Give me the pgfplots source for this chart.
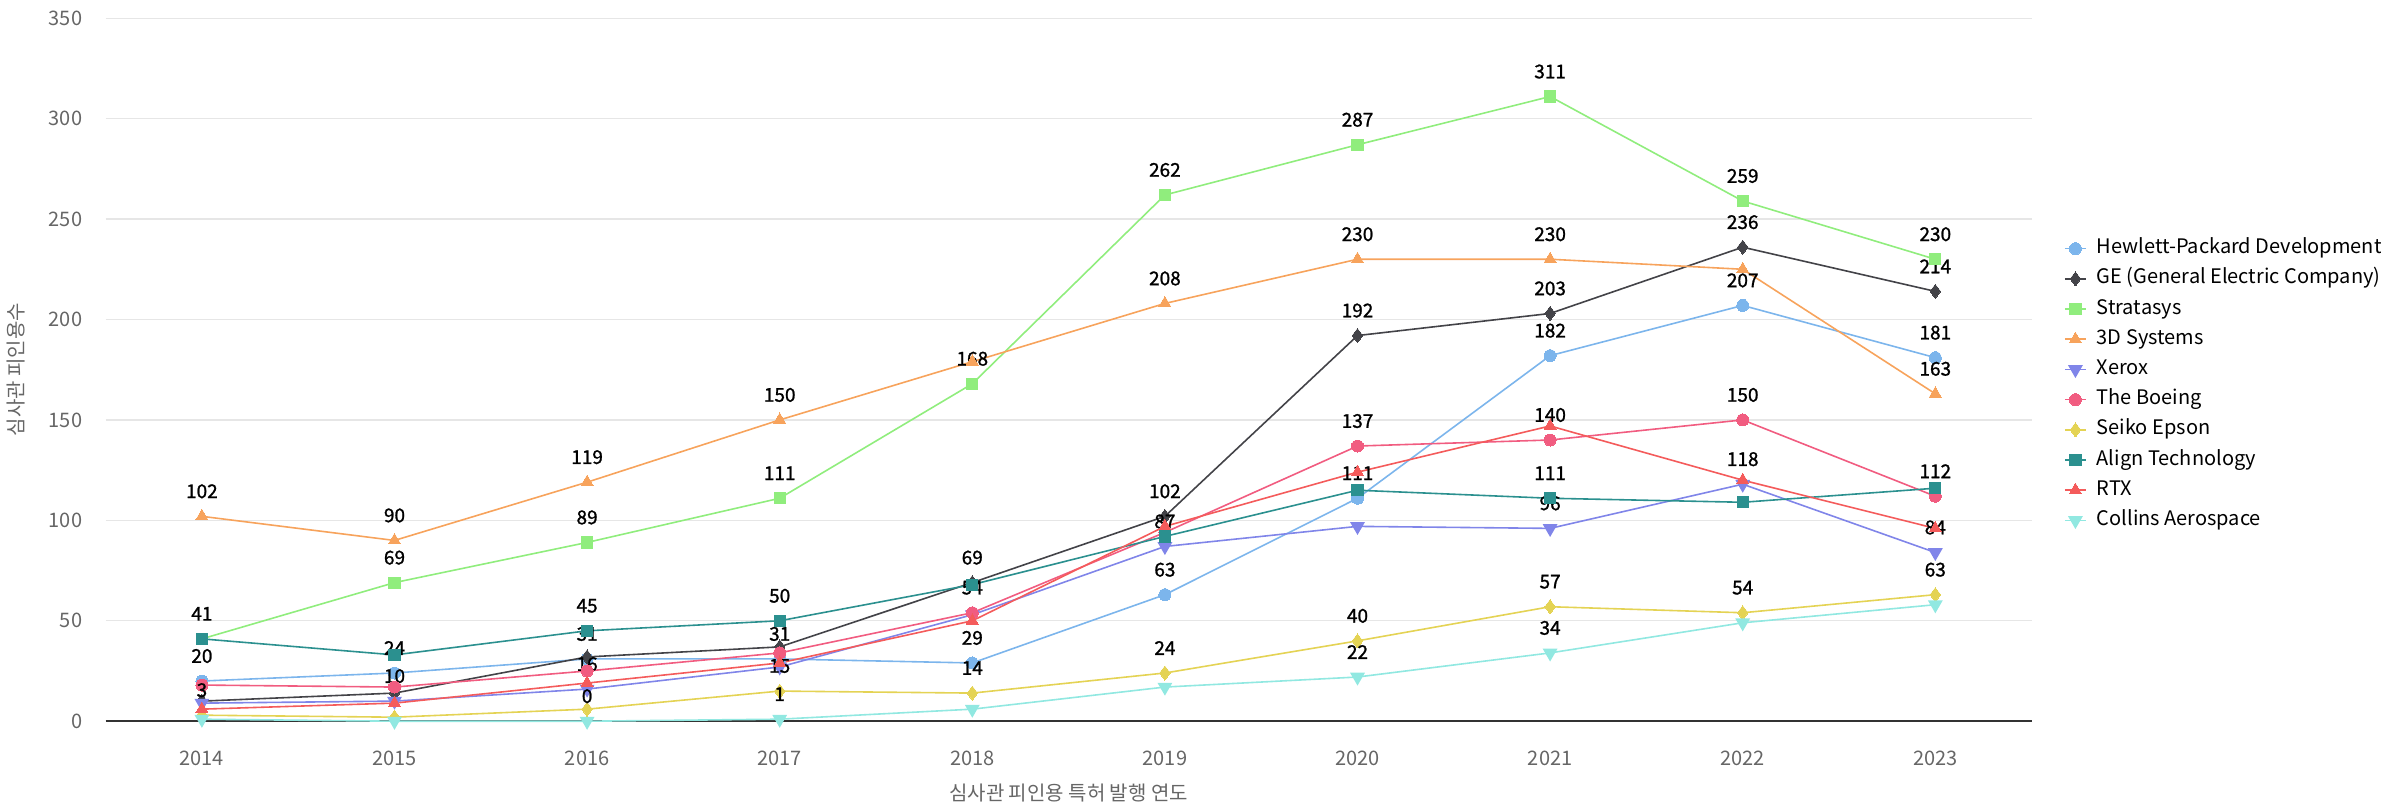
\documentclass[border=0pt]{standalone}
\usepackage{pgfplots}
\pgfplotsset{compat=1.18}
\usepackage{fontspec}
\setmainfont{Noto Sans CJK KR}
\newfontfamily\labfont[FakeBold=1.2]{Noto Sans CJK KR}
\definecolor{hp}{HTML}{7CB5EC}
\definecolor{ge}{HTML}{434348}
\definecolor{st}{HTML}{90ED7D}
\definecolor{td}{HTML}{F7A35C}
\definecolor{xe}{HTML}{8085E9}
\definecolor{bo}{HTML}{F15C80}
\definecolor{se}{HTML}{E4D354}
\definecolor{al}{HTML}{2B908F}
\definecolor{rt}{HTML}{F45B5B}
\definecolor{co}{HTML}{91E8E1}
\definecolor{gridgray}{HTML}{E6E6E6}
\definecolor{tickgray}{HTML}{666666}
\definecolor{axgray}{HTML}{333333}
\pgfplotsset{
  lab/.style={point meta=y,
    visualization depends on={value \thisrow{s}\as\showlab},
    nodes near coords={\ifnum\showlab=1 \pgfmathprintnumber{\pgfplotspointmeta}\fi}},
  ser/.style={color=#1, line width=0.8pt, lab,
    mark options={fill=#1, draw=#1, line width=0pt, solid}},
}
\begin{document}
\begin{tikzpicture}
\path[use as bounding box] (-52.8pt,-44pt) rectangle (1137.7pt,360.6pt);
\begin{axis}[
  at={(0,0)}, anchor=south west,
  scale only axis, width=963pt, height=351.5pt,
  xmin=-0.5, xmax=9.5, ymin=0, ymax=350,
  clip=false,
  xtick={0,...,9}, xticklabels={2014,2015,2016,2017,2018,2019,2020,2021,2022,2023},
  ytick={0,50,...,350},
  ymajorgrids, grid style={color=gridgray, line width=0.6pt},
  axis lines*=left,
  x axis line style={draw=axgray, line width=1pt},
  y axis line style={draw=none},
  major tick length=0pt,
  tick label style={font=\fontsize{10}{12}\selectfont, text=tickgray},
  xticklabel style={anchor=center, yshift=-18.5pt, inner sep=0pt},
  yticklabel style={anchor=east, xshift=-11.5pt, inner sep=0pt},
  /pgf/number format/assume math mode=true,
  xlabel={심사관 피인용 특허 발행 연도},
  ylabel={심사관 피인용수},
  xlabel style={at={(axis description cs:0.5,0)}, anchor=center, yshift=-36pt, font=\fontsize{10}{12}\selectfont, text=tickgray},
  ylabel style={at={(axis description cs:0,0.5)}, anchor=center, yshift=45pt, font=\fontsize{10}{12}\selectfont, text=tickgray},
  nodes near coords style={font=\labfont\fontsize{9.5}{10}\selectfont, text=black, anchor=center, yshift=12.5pt, inner sep=0pt},
  legend style={at={(rel axis cs:1,0.687)}, anchor=north west, xshift=16pt, draw=none, fill=none,
    inner sep=0pt, row sep=5.1pt, font=\fontsize{10}{12}\selectfont,
    nodes={inner ysep=0pt, inner xsep=5pt, text height=7.5pt, text depth=2.5pt}},
  legend cell align=left,
  legend image code/.code={\draw[mark repeat=2,mark phase=2] plot coordinates {(0pt,0pt) (5.3pt,0pt) (10.6pt,0pt)};},
]
\addplot[ser=hp, mark=*, mark size=3pt] table {
x y s
0 20 1
1 24 1
2 31 1
3 31 1
4 29 1
5 63 1
6 111 1
7 182 1
8 207 1
9 181 1
};
\addlegendentry{Hewlett-Packard Development}
\addplot[ser=ge, mark=diamond*, mark size=3.5pt] table {
x y s
0 10 0
1 14 0
2 32 0
3 37 0
4 69 1
5 102 1
6 192 1
7 203 1
8 236 1
9 214 1
};
\addlegendentry{GE (General Electric Company)}
\addplot[ser=st, mark=square*, mark size=2.8pt] table {
x y s
0 41 0
1 69 1
2 89 1
3 111 1
4 168 1
5 262 1
6 287 1
7 311 1
8 259 1
9 230 1
};
\addlegendentry{Stratasys}
\addplot[ser=td, mark=triangle*, mark size=3.5pt] table {
x y s
0 102 1
1 90 1
2 119 1
3 150 1
4 179 0
5 208 1
6 230 1
7 230 1
8 225 0
9 163 1
};
\addlegendentry{3D Systems}
\addplot[ser=xe, mark=triangle*, mark size=3.5pt, mark options={rotate=180}] table {
x y s
0 9 0
1 10 1
2 16 1
3 27 0
4 53 0
5 87 1
6 97 0
7 96 1
8 118 1
9 84 1
};
\addlegendentry{Xerox}
\addplot[ser=bo, mark=*, mark size=3pt] table {
x y s
0 18 0
1 17 0
2 25 0
3 34 0
4 54 1
5 94 0
6 137 1
7 140 1
8 150 1
9 112 1
};
\addlegendentry{The Boeing}
\addplot[ser=se, mark=diamond*, mark size=3.5pt] table {
x y s
0 3 1
1 2 0
2 6 0
3 15 1
4 14 1
5 24 1
6 40 1
7 57 1
8 54 1
9 63 1
};
\addlegendentry{Seiko Epson}
\addplot[ser=al, mark=square*, mark size=2.8pt] table {
x y s
0 41 1
1 33 0
2 45 1
3 50 1
4 68 0
5 92 0
6 115 0
7 111 1
8 109 0
9 116 0
};
\addlegendentry{Align Technology}
\addplot[ser=rt, mark=triangle*, mark size=3.5pt] table {
x y s
0 6 0
1 9 0
2 19 0
3 29 0
4 50 0
5 97 0
6 124 0
7 147 0
8 120 0
9 96 0
};
\addlegendentry{RTX}
\addplot[ser=co, mark=triangle*, mark size=3.5pt, mark options={rotate=180}] table {
x y s
0 1 0
1 0 0
2 0 1
3 1 1
4 6 0
5 17 0
6 22 1
7 34 1
8 49 0
9 58 0
};
\addlegendentry{Collins Aerospace}
\end{axis}
\end{tikzpicture}
\end{document}
